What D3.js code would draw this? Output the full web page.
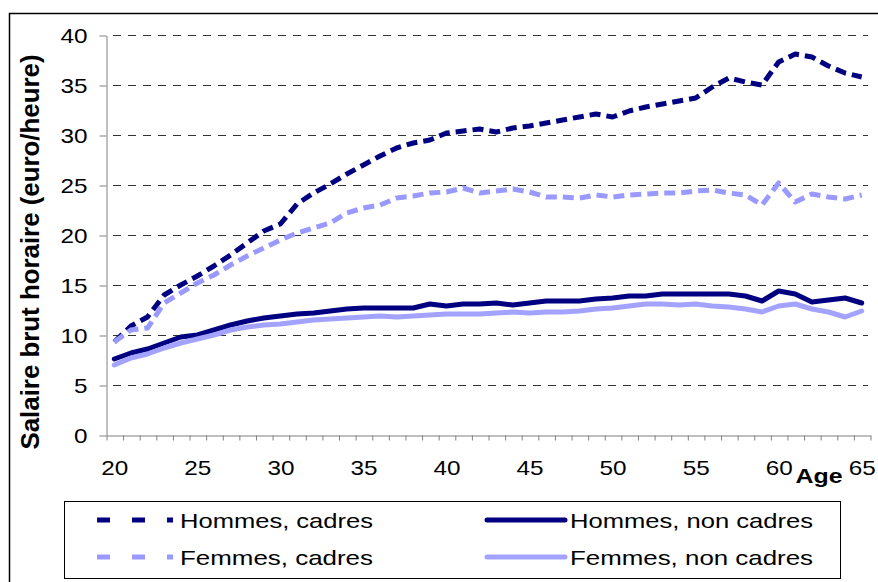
<!DOCTYPE html>
<html>
<head>
<meta charset="utf-8">
<script src="https://cdn.jsdelivr.net/npm/d3@7"></script>
<style>
  body { margin: 0; background: #fff; }
  svg { display: block; font-family: "Liberation Sans", Arial, sans-serif; }
</style>
</head>
<body>
<svg id="chart" width="878" height="582"></svg>
<script>
var ages = d3.range(20, 66);

var hommesCadres = [9.3, 10.9, 11.8, 14.0, 15.0, 15.9, 16.9, 18.0, 19.2, 20.4,
    21.1, 23.1, 24.2, 25.1, 26.1, 27.0, 27.9, 28.7, 29.2, 29.5,
    30.2, 30.4, 30.6, 30.3, 30.7, 30.9, 31.2, 31.5, 31.8, 32.1,
    31.8, 32.4, 32.8, 33.1, 33.4, 33.7, 34.8, 35.7, 35.3, 35.0,
    37.3, 38.1, 37.8, 36.9, 36.2, 35.8];

var hommesNonCadres = [7.6, 8.2, 8.6, 9.2, 9.8, 10.0, 10.5, 11.0, 11.4, 11.7,
    11.9, 12.1, 12.2, 12.4, 12.6, 12.7, 12.7, 12.7, 12.7, 13.1,
    12.9, 13.1, 13.1, 13.2, 13.0, 13.2, 13.4, 13.4, 13.4, 13.6,
    13.7, 13.9, 13.9, 14.1, 14.1, 14.1, 14.1, 14.1, 13.9, 13.4,
    14.4, 14.1, 13.3, 13.5, 13.7, 13.2];

var femmesCadres = [9.3, 10.5, 10.7, 13.2, 14.2, 15.2, 16.0, 17.0, 17.9, 18.7,
    19.5, 20.2, 20.7, 21.2, 22.2, 22.7, 23.0, 23.7, 23.9, 24.2,
    24.3, 24.7, 24.2, 24.4, 24.6, 24.3, 23.8, 23.8, 23.7, 24.0,
    23.8, 24.0, 24.1, 24.2, 24.2, 24.4, 24.5, 24.2, 24.0, 23.0,
    25.2, 23.3, 24.1, 23.8, 23.6, 24.0];

var femmesNonCadres = [7.0, 7.7, 8.1, 8.7, 9.2, 9.6, 10.0, 10.5, 10.8, 11.0,
    11.1, 11.3, 11.5, 11.6, 11.7, 11.8, 11.9, 11.8, 11.9, 12.0,
    12.1, 12.1, 12.1, 12.2, 12.3, 12.2, 12.3, 12.3, 12.4, 12.6,
    12.7, 12.9, 13.1, 13.1, 13.0, 13.1, 12.9, 12.8, 12.6, 12.3,
    12.9, 13.1, 12.6, 12.3, 11.8, 12.4];

var yTicks = [0, 5, 10, 15, 20, 25, 30, 35, 40];
var xLabels = [20, 25, 30, 35, 40, 45, 50, 55, 60, 65];

var series = [
    { name: "Hommes, cadres", values: hommesCadres, color: "#000080", dash: "11,6", col: 0, row: 0 },
    { name: "Hommes, non cadres", values: hommesNonCadres, color: "#000080", dash: null, col: 1, row: 0 },
    { name: "Femmes, cadres", values: femmesCadres, color: "#9999ff", dash: "11,6", col: 0, row: 1 },
    { name: "Femmes, non cadres", values: femmesNonCadres, color: "#a3a3ff", dash: null, col: 1, row: 1 }
];

(function () {

    var svg = d3.select("#chart");

    var x = d3.scaleLinear().domain([19.5, 65.5]).range([106, 870]),
        y = d3.scaleLinear().domain([0, 40]).range([435, 35]);

    // le texte de l'original est un peu étiré en largeur
    function stretch(sel, perChar) {
        sel.attr("textLength", function (d) { return String(d).length * perChar; })
            .attr("lengthAdjust", "spacingAndGlyphs");
    }

    // cadre extérieur (haut et gauche seulement)
    svg.append("path")
        .attr("d", "M9.5,582V13.5H878")
        .attr("fill", "none")
        .attr("stroke", "#000")
        .attr("stroke-width", 1.5);

    // quadrillage
    svg.append("g")
        .selectAll("line")
        .data(yTicks.slice(1))
        .join("line")
            .attr("x1", x.range()[0])
            .attr("x2", 868)
            .attr("y1", function (d) { return y(d) + 0.5; })
            .attr("y2", function (d) { return y(d) + 0.5; })
            .attr("stroke", "#333")
            .attr("stroke-dasharray", "8,7")
            .attr("stroke-dashoffset", 8);

    // axe Y
    var yAxis = svg.append("g")
        .attr("transform", "translate(106.5,0.5)")
        .call(d3.axisLeft(y).tickValues(yTicks).tickSize(7).tickPadding(12).tickSizeOuter(0));

    // axe X : graduations entre les catégories, libellés tous les 5 ans
    var xAxis = svg.append("g")
        .attr("transform", "translate(0.5,435.5)")
        .call(d3.axisBottom(x).tickValues(d3.range(19.5, 66, 1)).tickFormat("").tickSize(5).tickSizeOuter(0));

    var xLab = svg.append("g")
        .attr("transform", "translate(0,435)")
        .call(d3.axisBottom(x).tickValues(xLabels).tickFormat(d3.format("d")).tickSize(0).tickPadding(25));
    xLab.select(".domain").remove();

    [yAxis, xAxis].forEach(function (g) {
        g.select(".domain").attr("stroke", "#808080");
        g.selectAll(".tick line").attr("stroke", "#808080");
    });
    svg.selectAll(".tick text")
        .attr("font-family", "'Liberation Sans', Arial, sans-serif")
        .attr("font-size", 21)
        .attr("fill", "#000")
        .call(stretch, 13.5);

    // titres
    svg.append("text")
        .attr("transform", "translate(39,252) rotate(-90)")
        .attr("text-anchor", "middle")
        .attr("font-size", 25)
        .attr("font-weight", "bold")
        .attr("textLength", 395)
        .attr("lengthAdjust", "spacingAndGlyphs")
        .text("Salaire brut horaire (euro/heure)");

    svg.append("text")
        .attr("x", 819)
        .attr("y", 483)
        .attr("text-anchor", "middle")
        .attr("font-size", 21)
        .attr("font-weight", "bold")
        .attr("textLength", 47)
        .attr("lengthAdjust", "spacingAndGlyphs")
        .text("Age");

    // courbes
    var line = d3.line()
        .x(function (d, i) { return x(ages[i]); })
        .y(function (d) { return y(d); });

    svg.append("g")
        .selectAll("path")
        .data(series)
        .join("path")
            .attr("d", function (d) { return line(d.values); })
            .attr("fill", "none")
            .attr("stroke", function (d) { return d.color; })
            .attr("stroke-width", 5)
            .attr("stroke-linejoin", "round")
            .attr("stroke-linecap", function (d) { return d.dash ? "butt" : "round"; })
            .attr("stroke-dasharray", function (d) { return d.dash; });

    // légende
    var legend = svg.append("g");

    legend.append("rect")
        .attr("x", 64.5)
        .attr("y", 501.5)
        .attr("width", 776)
        .attr("height", 77)
        .attr("fill", "#fff")
        .attr("stroke", "#000");

    var item = legend.selectAll("g")
        .data(series)
        .join("g")
            .attr("transform", function (d) {
                return "translate(" + (d.col ? 487 : 97) + "," + (d.row ? 557 : 520) + ")";
            });

    item.append("line")
        .attr("x1", 0)
        .attr("x2", function (d) { return d.dash ? 76 : 78; })
        .attr("stroke", function (d) { return d.color; })
        .attr("stroke-width", 5)
        .attr("stroke-linecap", function (d) { return d.dash ? "butt" : "round"; })
        .attr("stroke-dasharray", function (d) { return d.dash ? "13,22" : null; });

    item.append("text")
        .attr("x", 83)
        .attr("y", 8)
        .attr("font-size", 21)
        .attr("textLength", function (d) { return d.col ? 243 : 193; })
        .attr("lengthAdjust", "spacingAndGlyphs")
        .text(function (d) { return d.name; });

}());
</script>
</body>
</html>
